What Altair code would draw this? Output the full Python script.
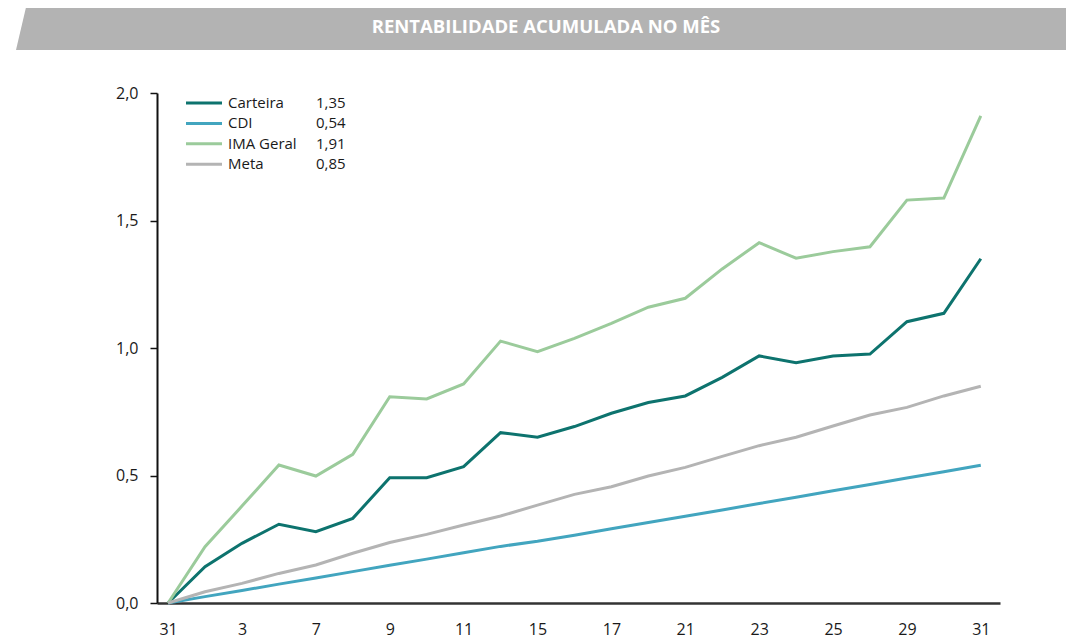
import altair as alt
import pandas as pd

# ---- data ----
dias = ["31", "2", "3", "4", "7", "8", "9", "10", "11", "14", "15", "16",
        "17", "18", "21", "22", "23", "24", "25", "28", "29", "30", "31"]

carteira = [0.0, 0.142, 0.234, 0.309, 0.280, 0.332, 0.491, 0.491, 0.535, 0.668,
            0.650, 0.692, 0.744, 0.786, 0.812, 0.885, 0.969, 0.942, 0.969, 0.976,
            1.103, 1.136, 1.35]
cdi = [0.0, 0.025, 0.049, 0.074, 0.098, 0.123, 0.148, 0.172, 0.197, 0.222,
       0.242, 0.266, 0.291, 0.316, 0.340, 0.365, 0.390, 0.415, 0.440, 0.465,
       0.490, 0.515, 0.54]
ima = [0.0, 0.221, 0.380, 0.541, 0.498, 0.583, 0.809, 0.800, 0.859, 1.027,
       0.986, 1.038, 1.097, 1.160, 1.195, 1.310, 1.413, 1.352, 1.378, 1.397,
       1.580, 1.588, 1.91]
meta = [0.0, 0.044, 0.077, 0.116, 0.149, 0.195, 0.237, 0.269, 0.306, 0.341,
        0.384, 0.426, 0.456, 0.498, 0.532, 0.575, 0.617, 0.650, 0.694, 0.737,
        0.767, 0.812, 0.85]

series = ["Carteira", "CDI", "IMA Geral", "Meta"]
cores = ["#0d736e", "#42a5bf", "#9bcb9b", "#b4b4b4"]
titulo = "RENTABILIDADE ACUMULADA NO MÊS"
y_ticks = [0, 0.5, 1.0, 1.5, 2.0]

FONT = "Open Sans"
TXT = "#1a1a1a"

valores = [carteira, cdi, ima, meta]
rows = []
for nome, vals in zip(series, valores):
    for i, v in enumerate(vals):
        rows.append({"serie": nome, "idx": i, "valor": v})
df = pd.DataFrame(rows)

label_js = "[" + ",".join("'%s'" % d for d in dias) + "][datum.value]"

W, H = 843, 510

# ---- banner (decoration) ----
banner_df = pd.DataFrame({"py": [-90, -43], "px": [-130, -141], "px2": [909, 909]})
banner = alt.Chart(banner_df).mark_area(orient="horizontal", color="#b3b3b3").encode(
    y=alt.Y("py:Q", scale=None, axis=None),
    x=alt.X("px:Q", scale=None, axis=None),
    x2="px2:Q",
)
title_txt = alt.Chart(pd.DataFrame({"t": [titulo]})).mark_text(
    font=FONT, fontSize=18.5, fontWeight="bold", color="white",
    align="center", baseline="middle",
).encode(x=alt.value(389), y=alt.value(-66), text="t:N")

# ---- lines ----
lines = alt.Chart(df).mark_line(strokeWidth=3).encode(
    x=alt.X("idx:Q",
            scale=alt.Scale(domain=[-0.3, 22.52], nice=False, zero=False),
            axis=alt.Axis(values=list(range(0, len(dias), 2)), labelExpr=label_js,
                          title=None, grid=False, ticks=False, tickSize=0,
                          domainColor="#333333", domainWidth=2.5,
                          labelPadding=18, labelFontSize=16, labelColor=TXT,
                          labelFont=FONT)),
    y=alt.Y("valor:Q",
            scale=alt.Scale(domain=[0, 2], nice=False),
            axis=alt.Axis(values=y_ticks,
                          labelExpr="replace(format(datum.value, '.1f'), '.', ',')",
                          title=None, grid=False, ticks=True, tickSize=7,
                          tickColor="#111111", tickWidth=1.5,
                          domainColor="#111111", domainWidth=2,
                          labelPadding=12, labelFontSize=16, labelColor=TXT,
                          labelFont=FONT)),
    color=alt.Color("serie:N", scale=alt.Scale(domain=series, range=cores), legend=None),
    detail="serie:N",
)

# ---- manual legend ----
one = pd.DataFrame({"k": [0]})
leg_layers = []
for i, (nome, cor, vals) in enumerate(zip(series, cores, valores)):
    yy = 10 + 20.4 * i
    leg_layers.append(alt.Chart(one).mark_rule(strokeWidth=3, color=cor).encode(
        x=alt.value(29), x2=alt.value(65), y=alt.value(yy)))
    leg_layers.append(alt.Chart(one).mark_text(
        font=FONT, fontSize=15, color=TXT, align="left", baseline="middle").encode(
        x=alt.value(71), y=alt.value(yy), text=alt.value(nome)))
    leg_layers.append(alt.Chart(one).mark_text(
        font=FONT, fontSize=15, color=TXT, align="left", baseline="middle").encode(
        x=alt.value(159), y=alt.value(yy),
        text=alt.value(("%.2f" % vals[-1]).replace(".", ","))))

chart = alt.layer(banner, title_txt, lines, *leg_layers).properties(
    width=W, height=H,
    autosize=alt.AutoSizeParams(type="none"),
    padding={"left": 149, "top": 85, "right": 66, "bottom": 35},
).configure_view(stroke=None)

chart.save("out.html", embed_options={"renderer": "svg", "actions": False})
